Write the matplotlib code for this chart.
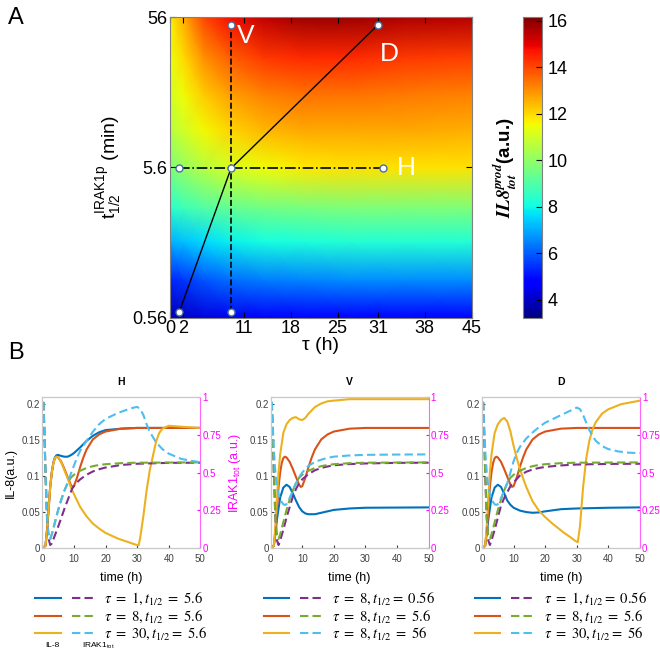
import matplotlib
matplotlib.use('Agg')
import matplotlib.pyplot as plt
import numpy as np
from matplotlib.legend_handler import HandlerTuple
from matplotlib.font_manager import FontProperties

plt.rcParams['font.family'] = ['Liberation Sans', 'DejaVu Sans']
plt.rcParams['mathtext.fontset'] = 'custom'
plt.rcParams['mathtext.rm'] = 'Liberation Sans'
plt.rcParams['mathtext.it'] = 'Liberation Sans:italic'
plt.rcParams['mathtext.bf'] = 'Liberation Sans:bold'

# ---------------- panel A data ----------------
tau_grid = [0, 2, 5, 9, 14, 20, 27, 35, 45]
thalf_grid = [0.56, 1, 1.8, 3, 5.6, 10, 17, 30, 56]
il8_prod = [
    [3.8, 4.0, 4.3, 4.5, 4.6, 4.7, 4.7, 4.7, 4.7],
    [5.3, 5.5, 5.9, 6.2, 6.4, 6.5, 6.6, 6.6, 6.6],
    [7.1, 7.3, 7.6, 7.9, 8.1, 8.2, 8.3, 8.3, 8.3],
    [8.4, 8.7, 9.0, 9.3, 9.5, 9.6, 9.7, 9.7, 9.7],
    [9.7, 10.1, 10.6, 11.1, 11.5, 11.8, 11.9, 11.9, 11.9],
    [10.6, 11.0, 11.6, 12.1, 12.5, 12.7, 12.7, 12.7, 12.6],
    [11.0, 11.5, 12.2, 12.8, 13.2, 13.4, 13.4, 13.3, 13.2],
    [11.4, 12.0, 13.0, 13.7, 14.2, 14.4, 14.4, 14.2, 14.1],
    [11.7, 12.6, 14.0, 14.8, 15.4, 15.8, 15.8, 15.6, 15.5],
]
xticks_A = [0, 2, 11, 18, 25, 31, 38, 45]
yticks_A = [0.56, 5.6, 56]
cbar_ticks = [4, 6, 8, 10, 12, 14, 16]

# path points (tau, t1/2) drawn on the map
diag_tau = [1.39, 9.1, 31.0]
diag_t = [0.614, 5.52, 49.6]
vert_tau = [9.1, 9.1]
vert_t = [0.614, 49.6]
hor_tau = [1.39, 31.8]
hor_t = [5.52, 5.52]
pts_tau = [1.39, 1.39, 9.1, 9.1, 9.1, 31.8, 31.0]
pts_t = [0.614, 5.52, 5.52, 49.6, 0.614, 5.52, 49.6]
lab_names = ['V', 'D', 'H']
lab_tau = [11.3, 32.7, 35.2]
lab_t = [42, 32, 5.52]

# ---------------- panel B data ----------------
# IL-8 (left axis), red curve tau=8, t1/2=5.6 (shared by all panels)
t_red = [0, 1, 1.5, 2, 2.5, 3, 3.5, 4, 4.5, 5, 6, 7, 8, 9, 9.5, 10, 11, 12, 13, 14, 16, 18, 20, 25, 30, 50]
il8_red = [0, 0.003, 0.025, 0.055, 0.085, 0.105, 0.118, 0.125, 0.127, 0.126, 0.12, 0.11, 0.099, 0.088, 0.085,
           0.086, 0.098, 0.113, 0.126, 0.137, 0.151, 0.158, 0.162, 0.166, 0.167, 0.167]
# IRAK1tot (right axis), green curve tau=8, t1/2=5.6 (shared)
t_green = [0, 0.3, 0.7, 1, 1.5, 2, 2.5, 3, 4, 5, 6, 7, 8, 9, 10, 11, 12, 14, 16, 18, 20, 25, 30, 40, 50]
irak_green = [1.05, 1.0, 0.75, 0.5, 0.2, 0.07, 0.06, 0.09, 0.17, 0.25, 0.32, 0.38, 0.43, 0.465, 0.485, 0.5,
              0.512, 0.53, 0.542, 0.55, 0.555, 0.562, 0.565, 0.566, 0.567]

# H panel
t_H_blue = [0, 1, 1.5, 2, 2.5, 3, 3.5, 4, 4.5, 5, 6, 7, 8, 9, 10, 12, 14, 16, 18, 20, 25, 30, 50]
il8_H_blue = [0, 0.003, 0.025, 0.055, 0.085, 0.105, 0.119, 0.126, 0.129, 0.1295, 0.128, 0.127, 0.127, 0.129,
              0.132, 0.14, 0.149, 0.156, 0.161, 0.164, 0.166, 0.167, 0.167]
t_H_yel = [0, 1, 1.5, 2, 2.5, 3, 3.5, 4, 4.5, 5, 6, 7, 8, 9, 10, 12, 14, 16, 18, 20, 24, 28, 30, 30.5, 31, 32,
           33, 34, 35, 36, 37, 38, 40, 43, 46, 50]
il8_H_yel = [0, 0.003, 0.025, 0.055, 0.085, 0.105, 0.118, 0.125, 0.127, 0.126, 0.119, 0.108, 0.097, 0.085,
             0.075, 0.057, 0.044, 0.034, 0.027, 0.021, 0.013, 0.007, 0.004, 0.004, 0.015, 0.045, 0.08, 0.108,
             0.128, 0.148, 0.16, 0.166, 0.17, 0.169, 0.168, 0.167]
t_H_pur = [0, 0.3, 0.7, 1, 1.5, 2, 2.5, 3, 4, 5, 6, 7, 8, 9, 9.5, 10, 11, 12, 14, 16, 18, 20, 25, 30, 40, 50]
irak_H_pur = [1.05, 1.0, 0.75, 0.5, 0.2, 0.06, 0.02, 0.03, 0.085, 0.14, 0.2, 0.26, 0.315, 0.37, 0.395, 0.41,
              0.435, 0.455, 0.485, 0.507, 0.522, 0.533, 0.55, 0.558, 0.564, 0.565]
t_H_cya = [0, 0.3, 0.7, 1, 1.5, 2, 2.5, 3, 4, 5, 6, 7, 8, 9, 10, 11, 12, 14, 16, 18, 20, 24, 28, 30, 31, 32, 33,
           34, 36, 38, 40, 44, 47, 50]
irak_H_cya = [1.05, 1.0, 0.75, 0.5, 0.2, 0.07, 0.06, 0.09, 0.17, 0.25, 0.32, 0.38, 0.43, 0.49, 0.545, 0.6, 0.645,
              0.71, 0.77, 0.82, 0.855, 0.895, 0.925, 0.935, 0.92, 0.88, 0.82, 0.77, 0.7, 0.655, 0.625, 0.59,
              0.578, 0.568]

# V panel
t_V_blue = [0, 1, 1.5, 2, 3, 4, 5, 6, 7, 8, 9, 10, 11, 12, 14, 16, 18, 20, 25, 30, 50]
il8_V_blue = [0, 0.003, 0.02, 0.04, 0.07, 0.084, 0.088, 0.085, 0.076, 0.066, 0.057, 0.051, 0.048, 0.047, 0.047,
              0.049, 0.051, 0.053, 0.055, 0.056, 0.0565]
t_V_yel = [0, 1, 1.5, 2, 2.5, 3, 4, 5, 6, 7, 8, 9, 10, 11, 12, 14, 16, 18, 20, 25, 30, 50]
il8_V_yel = [0, 0.003, 0.03, 0.07, 0.105, 0.13, 0.16, 0.172, 0.178, 0.181, 0.182, 0.179, 0.178, 0.181, 0.187,
             0.196, 0.201, 0.204, 0.205, 0.207, 0.207, 0.207]
t_V_pur = [0, 0.3, 0.7, 1, 1.5, 2, 2.5, 3, 4, 5, 6, 7, 8, 9, 10, 12, 14, 16, 18, 20, 25, 30, 40, 50]
irak_V_pur = [1.05, 1.0, 0.75, 0.5, 0.2, 0.05, 0.02, 0.05, 0.12, 0.2, 0.27, 0.34, 0.39, 0.43, 0.455, 0.49, 0.515,
              0.53, 0.54, 0.548, 0.556, 0.56, 0.564, 0.565]
t_V_cya = [0, 0.3, 0.7, 1, 1.5, 2, 3, 4, 4.5, 5, 6, 7, 8, 9, 10, 11, 12, 14, 16, 18, 20, 25, 30, 40, 50]
irak_V_cya = [1.05, 1.0, 0.8, 0.65, 0.5, 0.4, 0.32, 0.29, 0.285, 0.29, 0.33, 0.38, 0.43, 0.47, 0.5, 0.525, 0.545,
              0.57, 0.585, 0.597, 0.605, 0.613, 0.617, 0.619, 0.62]

# D panel
t_D_blue = [0, 1, 1.5, 2, 3, 4, 5, 6, 7, 8, 9, 10, 12, 14, 16, 18, 20, 25, 30, 40, 50]
il8_D_blue = [0, 0.003, 0.02, 0.04, 0.07, 0.084, 0.088, 0.085, 0.076, 0.066, 0.06, 0.056, 0.052, 0.05, 0.049,
              0.0495, 0.051, 0.054, 0.055, 0.056, 0.0565]
t_D_yel = [0, 1, 1.5, 2, 2.5, 3, 4, 5, 6, 7, 8, 9, 10, 11, 12, 13, 14, 16, 18, 20, 22, 24, 26, 28, 29.5, 30.3,
           31, 32, 33, 34, 35, 36, 38, 40, 44, 50]
il8_D_yel = [0, 0.003, 0.03, 0.07, 0.105, 0.13, 0.16, 0.172, 0.178, 0.181, 0.176, 0.162, 0.142, 0.125, 0.11,
             0.097, 0.085, 0.065, 0.052, 0.043, 0.035, 0.028, 0.021, 0.015, 0.01, 0.008, 0.03, 0.085, 0.125,
             0.15, 0.165, 0.175, 0.187, 0.193, 0.2, 0.205]
t_D_pur = [0, 0.3, 0.7, 1, 1.5, 2, 2.5, 3, 4, 5, 6, 7, 8, 9, 10, 12, 14, 16, 18, 20, 25, 30, 40, 50]
irak_D_pur = [1.05, 1.0, 0.75, 0.5, 0.2, 0.05, 0.02, 0.05, 0.12, 0.2, 0.28, 0.33, 0.37, 0.41, 0.435, 0.48, 0.505,
              0.52, 0.53, 0.537, 0.547, 0.553, 0.557, 0.558]
t_D_cya = [0, 0.3, 0.7, 1, 1.5, 2, 3, 4, 4.5, 5, 6, 7, 8, 9, 10, 11, 12, 14, 16, 18, 20, 25, 28, 30, 31, 32, 33,
           34, 35, 36, 38, 40, 43, 46, 50]
irak_D_cya = [1.05, 1.0, 0.8, 0.65, 0.5, 0.4, 0.32, 0.29, 0.285, 0.29, 0.33, 0.38, 0.43, 0.5, 0.575, 0.63, 0.67,
              0.725, 0.765, 0.8, 0.83, 0.88, 0.91, 0.93, 0.92, 0.88, 0.83, 0.78, 0.74, 0.71, 0.675, 0.655, 0.64,
              0.632, 0.628]

panels = {
    'H': dict(solid=[(t_H_blue, il8_H_blue), (t_red, il8_red), (t_H_yel, il8_H_yel)],
              dash=[(t_H_pur, irak_H_pur), (t_green, irak_green), (t_H_cya, irak_H_cya)],
              labels=[r'$\tau\ =\ 1, t_{1/2}\ =\ 5.6$', r'$\tau\ =\ 8, t_{1/2}\ =\ 5.6$',
                      r'$\tau\ =\ 30, t_{1/2}=\ 5.6$']),
    'V': dict(solid=[(t_V_blue, il8_V_blue), (t_red, il8_red), (t_V_yel, il8_V_yel)],
              dash=[(t_V_pur, irak_V_pur), (t_green, irak_green), (t_V_cya, irak_V_cya)],
              labels=[r'$\tau\ =\ 8, t_{1/2}=\ 0.56$', r'$\tau\ =\ 8, t_{1/2}\ =\ 5.6$',
                      r'$\tau\ =\ 8, t_{1/2}\ =\ 56$']),
    'D': dict(solid=[(t_D_blue, il8_D_blue), (t_red, il8_red), (t_D_yel, il8_D_yel)],
              dash=[(t_D_pur, irak_D_pur), (t_green, irak_green), (t_D_cya, irak_D_cya)],
              labels=[r'$\tau\ =\ 1, t_{1/2}=\ 0.56$', r'$\tau\ =\ 8, t_{1/2}\ =\ 5.6$',
                      r'$\tau\ =\ 30, t_{1/2}=\ 56$']),
}
solid_cols = ['#0072BD', '#D95319', '#EDB120']
dash_cols = ['#7E2F8E', '#77AC30', '#4DBEEE']

fig = plt.figure(figsize=(6.6, 6.5), dpi=100)

# ---------------- panel A ----------------
axA = fig.add_axes([0.2576, 0.5112, 0.4571, 0.4626])
TT, YY = np.meshgrid(tau_grid, thalf_grid)
mesh = axA.pcolormesh(TT, YY, np.array(il8_prod), cmap='jet', vmin=3.21, vmax=16.15, shading='gouraud')
axA.set_yscale('log')
axA.set_xlim(0, 45)
axA.set_ylim(0.56, 56)
axA.set_xticks(xticks_A)
axA.set_xticklabels([str(v) for v in xticks_A])
axA.set_yticks(yticks_A)
axA.set_yticklabels(['0.56', '5.6', '56'])
axA.yaxis.set_minor_locator(matplotlib.ticker.NullLocator())
axA.tick_params(direction='in', top=True, right=True, labelsize=13, length=4, pad=2)
for s in axA.spines.values():
    s.set_color('#808080')
axA.plot(diag_tau, diag_t, color='black', lw=1)
axA.plot(vert_tau, vert_t, color='black', lw=1.2, ls='--')
axA.plot(hor_tau, hor_t, color='black', lw=1.2, ls='-.')
axA.plot(pts_tau, pts_t, ls='none', marker='o', ms=5, mfc='white', mec='#4a6fa5', mew=1)
for name, x, y in zip(lab_names, lab_tau, lab_t):
    axA.text(x, y, name, color='white', fontsize=19, ha='center', va='center')
axA.set_xlabel('\u03c4 (h)', fontsize=14, labelpad=0)
axA.set_ylabel(r'$\mathrm{t}_{\mathrm{1/2}}^{\mathrm{IRAK1p}}$ (min)', fontsize=14, labelpad=6)

cax = fig.add_axes([0.7920, 0.5103, 0.0297, 0.4630])
cb = fig.colorbar(mesh, cax=cax)
cb.set_ticks(cbar_ticks)
cax.tick_params(direction='in', labelsize=13, length=4)
cb.outline.set_edgecolor('#808080')
cax.yaxis.set_label_position('left')
cb.set_label(r'$\mathbfit{IL8}_{\mathbfit{tot}}^{\mathbfit{prod}}$(a.u.)',
             fontproperties=FontProperties(family='Liberation Sans', weight='bold', size=13.5,
                                           math_fontfamily='stix'), labelpad=3)

fig.text(0.012, 0.972, 'A', fontsize=17, va='center', ha='left')
fig.text(0.012, 0.457, 'B', fontsize=17, va='center', ha='left')

# ---------------- panel B ----------------
lefts = {'H': 0.0641, 'V': 0.4101, 'D': 0.7303}
leg_font = FontProperties(family='STIXGeneral', size=10.5, math_fontfamily='stix')
for name in ['H', 'V', 'D']:
    p = panels[name]
    ax = fig.add_axes([lefts[name], 0.1569, 0.2394, 0.2323])
    ax2 = ax.twinx()
    s_lines = []
    for (t, v), c in zip(p['solid'], solid_cols):
        l, = ax.plot(t, v, color=c, lw=1.5)
        s_lines.append(l)
    d_lines = []
    for (t, v), c in zip(p['dash'], dash_cols):
        l, = ax2.plot(t, v, color=c, lw=1.5, dashes=(4, 2))
        d_lines.append(l)
    ax.set_xlim(0, 50)
    ax.set_ylim(0, 0.21)
    ax2.set_ylim(0, 1)
    ax.set_xticks([0, 10, 20, 30, 40, 50])
    ax.set_yticks([0, 0.05, 0.1, 0.15, 0.2])
    ax.set_yticklabels(['0', '0.05', '0.1', '0.15', '0.2'])
    ax2.set_yticks([0, 0.25, 0.5, 0.75, 1])
    ax2.set_yticklabels(['0', '0.25', '0.5', '0.75', '1'])
    ax.tick_params(direction='in', labelsize=7, colors='#404040', length=2, pad=1.5, right=False)
    ax.tick_params(axis='x', pad=4)
    ax2.tick_params(direction='in', labelsize=7, colors='#ff00ff', length=2, pad=1.5)
    for sp in ['left', 'top', 'bottom']:
        ax2.spines[sp].set_color('#c8c8c8')
        ax.spines[sp].set_color('#c8c8c8')
    ax2.spines['right'].set_color('#ff66ff')
    ax.spines['right'].set_visible(False)
    ax.set_title(name, fontsize=7.5, fontweight='bold', pad=9)
    ax.set_xlabel('time (h)', fontsize=9, labelpad=6)
    if name == 'H':
        ax.set_ylabel('IL-8(a.u.)', fontsize=9, labelpad=3)
        ax2.set_ylabel(r'IRAK1$_{\mathrm{tot}}$ (a.u.)', fontsize=9, color='#ff00ff', rotation=90, labelpad=4)
        ax.text(0.02, -0.645, 'IL-8', transform=ax.transAxes, fontsize=6, ha='left', va='center')
        ax.text(0.25, -0.645, r'IRAK1$_{\mathrm{tot}}$', transform=ax.transAxes, fontsize=6, ha='left',
                va='center')
    ax.legend([(s, d) for s, d in zip(s_lines, d_lines)], p['labels'],
              handler_map={tuple: HandlerTuple(ndivide=None, pad=0.75)},
              handlelength=4.2, handletextpad=0.5, labelspacing=0.1, frameon=False,
              loc='upper center', bbox_to_anchor=(0.5, -0.245), prop=leg_font, borderaxespad=0)

fig.savefig('out.png', dpi=100)
